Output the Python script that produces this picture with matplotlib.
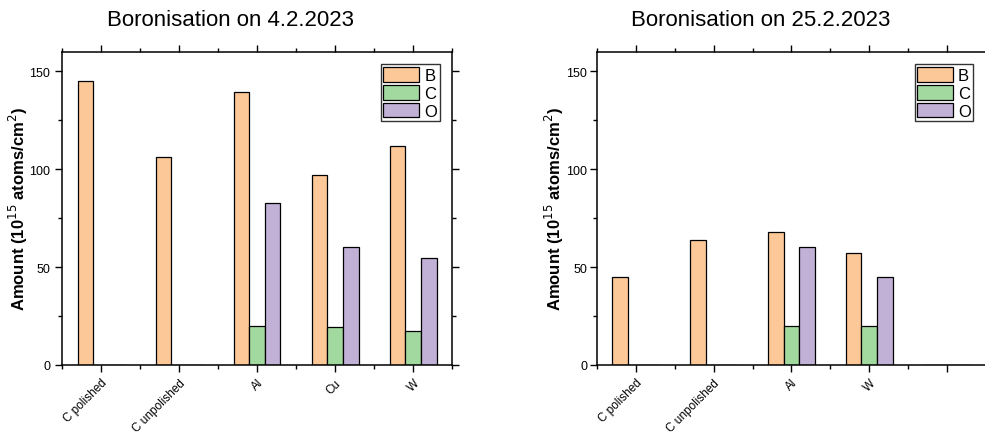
import matplotlib
matplotlib.use("Agg")
import matplotlib.pyplot as plt
import matplotlib.transforms as mtransforms
import numpy as np

plt.rcParams['font.family'] = ['Liberation Sans', 'DejaVu Sans']

# data for the two boronisation runs
labels_1 = ["C polished", "C unpolished", "Al", "Cu", "W"]
B_1 = [145.2, 106, 139.6, 97.1, 111.8]
C_1 = [0, 0, 20.1, 19.1, 17.1]
O_1 = [0, 0, 82.6, 60.1, 54.4]

labels_2 = ["C polished", "C unpolished", "Al", "W", ""]
B_2 = [45, 64, 68, 57, 0]
C_2 = [0, 0, 20, 20, 0]
O_2 = [0, 0, 60, 45, 0]

titles = ["Boronisation on 4.2.2023", "Boronisation on 25.2.2023"]
colors = {"B": "#FDC898", "C": "#A1D99F", "O": "#C2B1D7"}

fig = plt.figure(figsize=(9.85, 4.35), dpi=100)
ax1 = fig.add_axes([0.063, 0.159, 0.396, 0.7195])
ax2 = fig.add_axes([0.606, 0.159, 0.395, 0.7195])

# shift tick labels a little to the right
offset = mtransforms.ScaledTranslation(6 / 100, -1 / 100, fig.dpi_scale_trans)

datasets = [(ax1, labels_1, B_1, C_1, O_1), (ax2, labels_2, B_2, C_2, O_2)]
for ax, labels, b, c, o in datasets:
    x = np.arange(1, len(labels) + 1)
    w = 0.2
    ax.bar(x - w, b, w, color=colors["B"], edgecolor="black", linewidth=0.9, label="B")
    ax.bar(x, c, w, color=colors["C"], edgecolor="black", linewidth=0.9, label="C")
    ax.bar(x + w, o, w, color=colors["O"], edgecolor="black", linewidth=0.9, label="O")
    ax.set_xlim(0.5, 5.5)
    ax.set_ylim(0, 160)
    ax.set_xticks(x)
    ax.set_xticklabels(labels, rotation=45, ha="right", rotation_mode="anchor", fontsize=8.5)
    for lab in ax.get_xticklabels():
        lab.set_transform(lab.get_transform() + offset)
    ax.set_xticks(np.arange(0.5, 5.6, 1), minor=True)
    ax.set_yticks([0, 50, 100, 150])
    ax.set_yticks([25, 75, 125], minor=True)
    ax.tick_params(axis="both", which="major", direction="out", length=5, width=1,
                   labelsize=9, top=True, right=True)
    ax.tick_params(axis="x", which="major", labelsize=8.5)
    ax.tick_params(axis="both", which="minor", direction="out", length=3, width=1,
                   top=True, right=True)
    for s in ax.spines.values():
        s.set_linewidth(1.1)
    ax.set_ylabel("Amount (10$^{15}$ atoms/cm$^{2}$)", fontsize=12, fontweight="bold")
    leg = ax.legend(loc="upper right", fontsize=12, fancybox=False, edgecolor="black",
                    handlelength=2.15, handleheight=1.0, handletextpad=0.3,
                    borderpad=0.15, labelspacing=0.1, borderaxespad=0.75)
    leg.get_frame().set_linewidth(1)

ax2.tick_params(axis="y", which="major", pad=2)
ax1.yaxis.set_label_coords(-0.082, 0.5)
ax2.yaxis.set_label_coords(-0.08, 0.5)

fig.text(0.2345, 0.954, titles[0], ha="center", va="center", fontsize=16)
fig.text(0.7726, 0.954, titles[1], ha="center", va="center", fontsize=16)

fig.savefig("out.png", dpi=100)
